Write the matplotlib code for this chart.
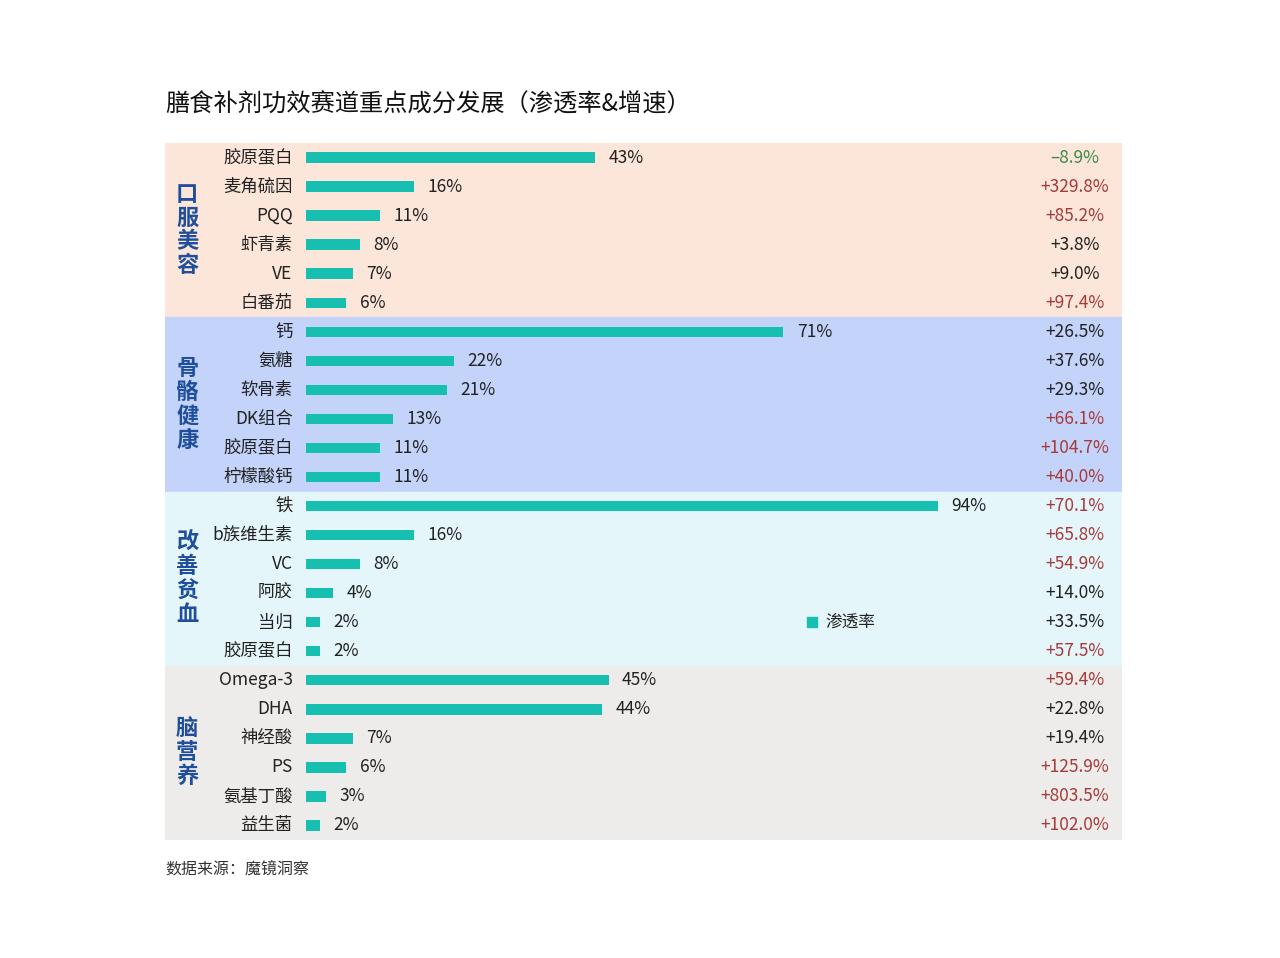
import matplotlib.pyplot as plt
from matplotlib.patches import Rectangle

plt.rcParams['font.family'] = ['Noto Sans CJK SC', 'DejaVu Sans']

groups = ['口服美容', '骨骼健康', '改善贫血', '脑营养']
names = ['胶原蛋白', '麦角硫因', 'PQQ', '虾青素', 'VE', '白番茄',
         '钙', '氨糖', '软骨素', 'DK组合', '胶原蛋白', '柠檬酸钙',
         '铁', 'b族维生素', 'VC', '阿胶', '当归', '胶原蛋白',
         'Omega-3', 'DHA', '神经酸', 'PS', '氨基丁酸', '益生菌']
rate = [43, 16, 11, 8, 7, 6,
        71, 22, 21, 13, 11, 11,
        94, 16, 8, 4, 2, 2,
        45, 44, 7, 6, 3, 2]
growth = [-8.9, 329.8, 85.2, 3.8, 9.0, 97.4,
          26.5, 37.6, 29.3, 66.1, 104.7, 40.0,
          70.1, 65.8, 54.9, 14.0, 33.5, 57.5,
          59.4, 22.8, 19.4, 125.9, 803.5, 102.0]
band_colors = ['#fbe6d9', '#c3d3f9', '#e5f6fa', '#eeecea']

fig = plt.figure(figsize=(12.8, 9.58), dpi=100)
ax = fig.add_axes([165/1280, 1-840/958, (1122-165)/1280, (840-143)/958])
ax.set_xlim(-21, 121.4)
ax.set_ylim(24, 0)
ax.axis('off')

for g in range(4):
    ax.add_patch(Rectangle((-21, g*6), 142.4, 6, color=band_colors[g], zorder=0))
    ax.text(-17.7, g*6+3, '\n'.join(groups[g]), ha='center', va='center',
            fontsize=16, fontweight='bold', style='italic', color='#1f4f9c',
            linespacing=1.05)

ys = [i + 0.5 for i in range(24)]
ax.barh(ys, rate, height=0.36, color='#17bfb0', zorder=2)
for y, n, r, g in zip(ys, names, rate, growth):
    ax.text(-2, y, n, ha='right', va='center', fontsize=12.5, color='#222222')
    ax.text(r + 2, y, f'{r}%', ha='left', va='center', fontsize=12.5, color='#222222')
    if g < 0:
        c = '#3f8a4a'
        s = f'–{abs(g):.1f}%'
    elif g >= 40:
        c = '#a63a3a'
        s = f'+{g:.1f}%'
    else:
        c = '#222222'
        s = f'+{g:.1f}%'
    ax.text(114.4, y, s, ha='center', va='center', fontsize=12.5, color=c, style='italic')

# legend
ax.scatter([75.3], [16.5], marker='s', s=50, color='#17bfb0', zorder=3)
ax.text(77.3, 16.5, '渗透率', ha='left', va='center', fontsize=12, color='#222222')

fig.text(165/1280, 1-105/958, '膳食补剂功效赛道重点成分发展（渗透率&增速）',
         ha='left', va='center', fontsize=17.5, color='#111111')
fig.text(165/1280, 1-870/958, '数据来源：魔镜洞察', ha='left', va='center',
         fontsize=11.5, color='#333333')

plt.savefig('out.png', dpi=100)
